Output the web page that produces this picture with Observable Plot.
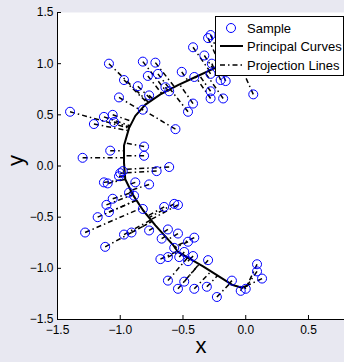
<!DOCTYPE html>
<html><head><meta charset="utf-8">
<script src="https://cdn.jsdelivr.net/npm/d3@7"></script>
<script src="https://cdn.jsdelivr.net/npm/@observablehq/plot@0.6"></script>
<style>
html,body{margin:0;padding:0;background:#e8e8f1;overflow:hidden;}
#chart svg{display:block;}
</style></head><body><div id="chart"></div>
<script>
// Sample points
const sampleX = [-1.09,-0.82,-0.72,-0.78,-0.70,-0.97,-0.86,-0.64,-0.61,-0.77,-1.01,-0.82,-1.40,-1.13,-1.06,-1.05,-1.21,-1.08,-0.81,-0.81,-1.30,-0.61,-0.71,-1.01,-1.00,-0.98,-1.13,-1.10,-0.88,-0.77,-0.93,-0.89,-1.06,-1.11,-1.09,-1.18,-0.82,-0.65,-0.57,-0.54,-1.28,-0.97,-0.91,-0.77,-0.67,-0.62,-1.12,-0.54,-0.41,-0.46,-0.57,-0.49,-0.68,-0.62,-0.53,-0.42,-0.46,-0.30,-0.62,-0.49,-0.54,-0.41,-0.31,-0.23,-0.11,-0.04,0.00,0.09,0.09,0.13,-0.42,-0.33,-0.30,-0.28,-0.51,-0.41,-0.27,-0.28,-0.20,-0.16,-0.28,-0.28,-0.18,-0.42,-0.46,0.06,-0.56];
const sampleY = [1.00,1.02,1.01,0.88,0.90,0.84,0.78,0.77,0.73,0.69,0.67,0.55,0.53,0.48,0.50,0.43,0.41,0.15,0.19,0.10,0.08,-0.01,-0.05,-0.10,-0.07,-0.05,-0.16,-0.17,-0.16,-0.18,-0.26,-0.29,-0.32,-0.38,-0.45,-0.50,-0.42,-0.40,-0.37,-0.38,-0.65,-0.67,-0.65,-0.63,-0.71,-0.62,-0.79,-0.66,-0.70,-0.74,-0.80,-0.84,-0.91,-0.89,-0.89,-0.88,-0.93,-0.92,-1.12,-1.13,-1.20,-1.20,-1.18,-1.28,-1.12,-1.22,-1.20,-0.96,-1.03,-1.10,1.16,1.08,1.25,1.28,0.92,0.87,1.00,0.90,0.84,0.83,0.73,0.66,0.66,0.61,0.53,0.70,0.36];
// Principal curve vertices
const curveX = [-0.04,-0.26,-0.40,-0.54,-0.68,-0.80,-0.88,-0.93,-0.97,-0.97,-0.96,-0.90,-0.82,-0.72,-0.58,-0.54,-0.34,-0.11,-0.03,0.01];
const curveY = [1.03,0.95,0.87,0.79,0.70,0.60,0.49,0.37,0.20,0.03,-0.13,-0.28,-0.43,-0.58,-0.77,-0.84,-0.98,-1.16,-1.19,-1.17];
const xTicks = [-1.5,-1,-0.5,0,0.5];
const yTicks = [-1.5,-1,-0.5,0,0.5,1,1.5];
const legendLabels = ["Sample","Principal Curves","Projection Lines"];
const xLabel = "x", yLabel = "y";

const samples = sampleX.map((x,i)=>({x, y: sampleY[i]}));
const curve = curveX.map((x,i)=>({x, y: curveY[i]}));
function project(p){
  let best=null, bd=Infinity;
  for(let i=0;i<curve.length-1;i++){
    const a=curve[i], b=curve[i+1];
    const dx=b.x-a.x, dy=b.y-a.y;
    let t=((p.x-a.x)*dx+(p.y-a.y)*dy)/(dx*dx+dy*dy);
    t=Math.max(0,Math.min(1,t));
    const qx=a.x+t*dx, qy=a.y+t*dy;
    const d=(p.x-qx)**2+(p.y-qy)**2;
    if(d<bd){bd=d;best={x:qx,y:qy};}
  }
  return best;
}
const proj = samples.map(p=>{const q=project(p);return {x1:p.x,y1:p.y,x2:q.x,y2:q.y};});
const DASH = "5,3,1.5,3";
const FONT = "'Liberation Sans', Arial, sans-serif";

const plot = Plot.plot({
  width:344, height:362, marginLeft:57, marginRight:0, marginTop:12, marginBottom:43,
  style:{background:"transparent", fontFamily:FONT, fontSize:"12px", color:"black"},
  x:{domain:[-1.5, 0.787], ticks:xTicks},
  y:{domain:[-1.5, 1.5], ticks:yTicks},
  marks:[
    Plot.frame({fill:"white", stroke:null}),
    Plot.link(proj,{x1:"x1",y1:"y1",x2:"x2",y2:"y2",stroke:"black",strokeWidth:1.5,strokeDasharray:DASH}),
    Plot.line(curve,{x:"x",y:"y",stroke:"black",strokeWidth:2}),
    Plot.dot(samples,{x:"x",y:"y",r:4.5,stroke:"#0000ff",strokeWidth:1,fill:"none"}),
    Plot.ruleX([-1.5],{stroke:"black"}),
    Plot.ruleY([-1.5],{stroke:"black"}),
    Plot.axisX({ticks:xTicks, tickSize:-4, tickPadding:10, label:null}),
    Plot.axisY({ticks:yTicks, tickSize:-4, tickPadding:8, label:null}),
    Plot.text([xLabel],{frameAnchor:"bottom", dy:33, fontSize:22}),
    Plot.text([yLabel],{frameAnchor:"left", dx:-42, rotate:-90, fontSize:22})
  ]
});
document.getElementById("chart").appendChild(plot);

// Legend (drawn on top, opaque box)
const svg = d3.select(plot);
const g = svg.append("g").attr("font-family",FONT).attr("font-size",13).attr("text-anchor","start");
g.append("rect").attr("x",215.5).attr("y",16.5).attr("width",128).attr("height",59)
  .style("fill","white").style("stroke","black").style("stroke-width",1);
const rows=[28,46,65];
g.append("circle").attr("cx",231).attr("cy",rows[0]).attr("r",4.5)
  .style("fill","none").style("stroke","#0000ff").style("stroke-width",1);
g.append("line").attr("x1",220).attr("x2",243).attr("y1",rows[1]).attr("y2",rows[1])
  .style("stroke","black").style("stroke-width",2);
g.append("line").attr("x1",220).attr("x2",243).attr("y1",rows[2]).attr("y2",rows[2])
  .style("stroke","black").style("stroke-width",1.5).style("stroke-dasharray",DASH);
legendLabels.forEach((t,i)=>{
  g.append("text").attr("x",247).attr("y",rows[i]).attr("dy","0.35em")
    .style("fill","black").style("text-anchor","start").text(t);
});
</script></body></html>
